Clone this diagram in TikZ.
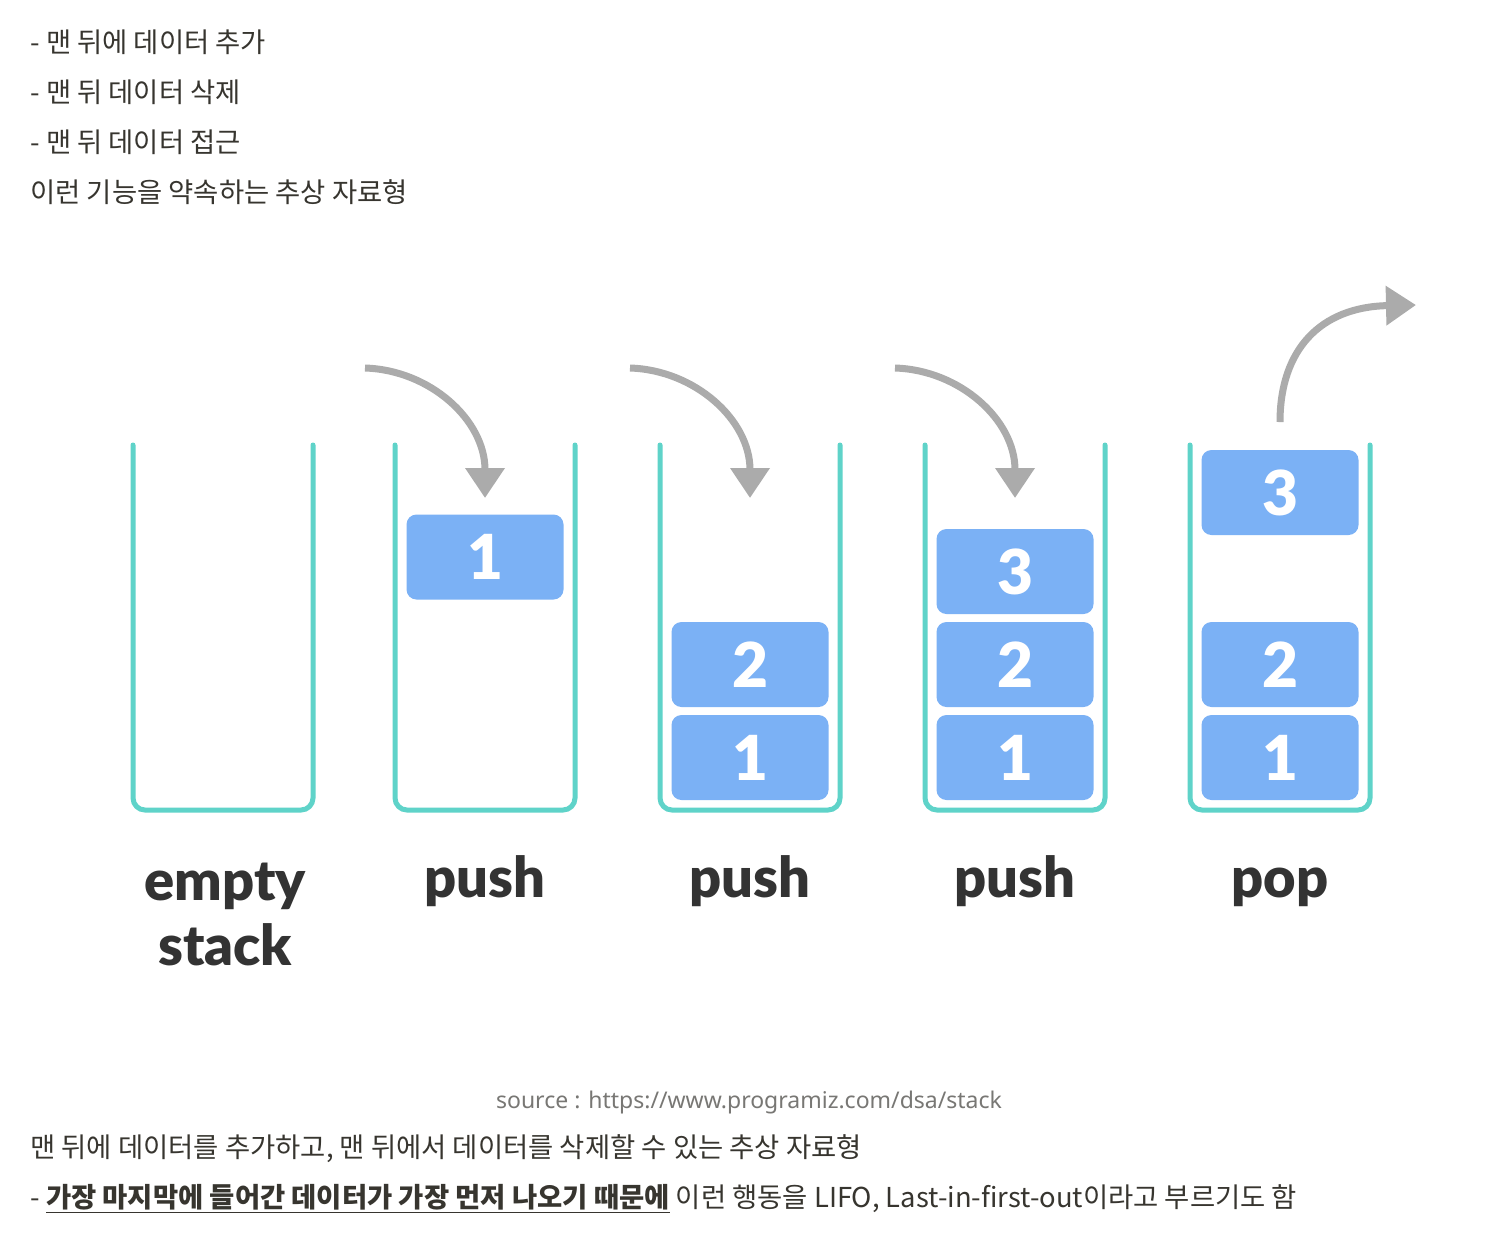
\documentclass[tikz,border=0pt]{standalone}
\usepackage{fontspec}
\usetikzlibrary{arrows.meta}
\newfontfamily\krfont{Noto Sans CJK KR}
\IfFontExistsTF{Lato Black}{\newfontfamily\latofont{Lato Black}[BoldFont={Lato Black}]}{\newfontfamily\latofont{Lato}[BoldFeatures={FakeBold=1.5}]}
\newfontfamily\srcfont{Noto Sans}
\definecolor{teal}{HTML}{5FD3C9}
\definecolor{boxblue}{HTML}{7BB1F5}
\definecolor{arrowgray}{HTML}{ABABAB}
\definecolor{txt}{HTML}{37352F}
\definecolor{srcgray}{HTML}{787774}
\definecolor{lbl}{HTML}{333333}
\tikzset{
  wall/.style={draw=teal, line width=2.5pt, line cap=round, rounded corners=6pt},
  blk/.style={rectangle, rounded corners=5pt, fill=boxblue, minimum width=78.5pt, minimum height=42.5pt,
    inner sep=0pt, text=white, font=\latofont\bfseries\fontsize{31}{31}\selectfont},
  opl/.style={anchor=base, text=lbl, font=\latofont\bfseries\fontsize{28}{32.5}\selectfont, align=center, inner sep=0pt},
  mv/.style={draw=arrowgray, line width=3.5pt, -{Triangle[length=15pt,width=19pt]}},
  kr/.style={anchor=base west, inner sep=0pt, text=txt, font=\krfont\fontsize{13.7}{16}\selectfont},
}
\begin{document}
\begin{tikzpicture}[x=0.5pt,y=-0.5pt]
\useasboundingbox (0,0) rectangle (1500,1250);
\fill[white] (0,0) rectangle (1500,1250);
% top text
\node[kr] (t1) at (30,52) {- 맨 뒤에 데이터 추가};
\node[kr] (t2) at (30,102) {- 맨 뒤 데이터 삭제};
\node[kr] (t3) at (30,152) {- 맨 뒤 데이터 접근};
\node[kr] (t4) at (30,202) {이런 기능을 약속하는 추상 자료형};
% containers
\foreach \c/\n in {223/c1,485/c2,750/c3,1015/c4,1280/c5}{
  \draw[wall] (\c-90,445) -- (\c-90,810) -- (\c+90,810) -- (\c+90,445);
  \coordinate (\n) at (\c,810);
}
% blocks
\node[blk] (b21) at (485,557) {1};
\node[blk] (b32) at (750,664.5) {2};
\node[blk] (b31) at (750,757.5) {1};
\node[blk] (b43) at (1015,571.5) {3};
\node[blk] (b42) at (1015,664.5) {2};
\node[blk] (b41) at (1015,757.5) {1};
\node[blk] (b53) at (1280,492.5) {3};
\node[blk] (b52) at (1280,664.5) {2};
\node[blk] (b51) at (1280,757.5) {1};
% arrows
\foreach \d/\n in {0/a,265/b,530/c}{
  \coordinate (\n s) at (365+\d,368);
  \coordinate (\n e) at (485+\d,498);
  \draw[mv] (\n s) .. controls (430+\d,370) and (485+\d,420) .. (\n e);
}
\coordinate (ps) at (1280,422);
\coordinate (pe) at (1416,305);
\draw[mv] (ps) .. controls (1280,350) and (1320,307) .. (pe);
% labels
\node[opl] (l1) at (225,965) {empty\\stack};
\node[opl] (l2) at (485,897) {push};
\node[opl] (l3) at (750,897) {push};
\node[opl] (l4) at (1015,897) {push};
\node[opl] (l5) at (1280,897) {pop};
% source + bottom text
\node[anchor=base, inner sep=0pt, text=srcgray, font=\srcfont\fontsize{11.5}{13}\selectfont] (src) at (749,1108) {source : https://www.programiz.com/dsa/stack};
\node[kr] (b1) at (30,1157) {맨 뒤에 데이터를 추가하고, 맨 뒤에서 데이터를 삭제할 수 있는 추상 자료형};
\node[kr] (b2) at (30,1207) {- \textbf{\underline{가장 마지막에 들어간 데이터가 가장 먼저 나오기 때문에}} 이런 행동을 LIFO, Last-in-first-out이라고 부르기도 함};
\end{tikzpicture}
\end{document}
